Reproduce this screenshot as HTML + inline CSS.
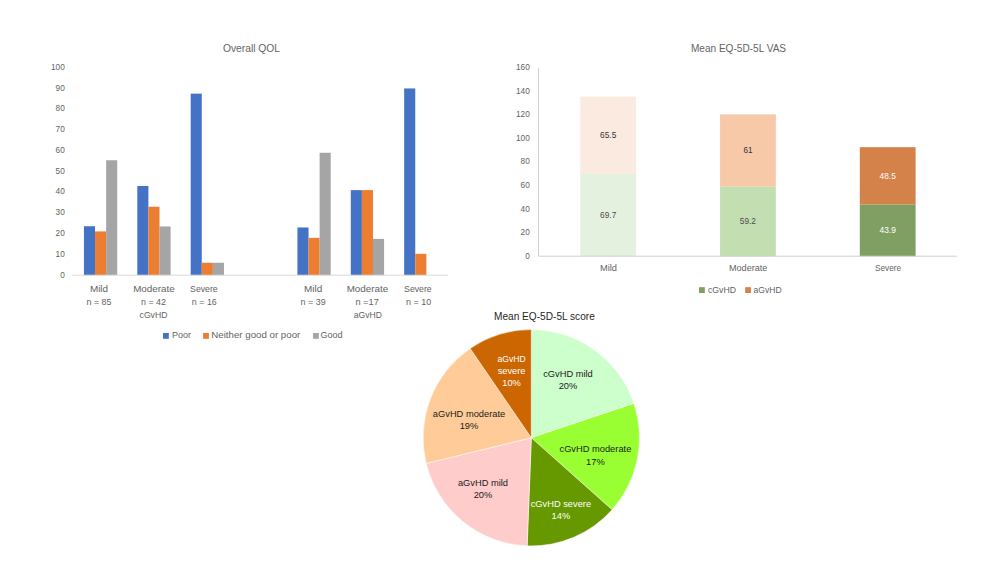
<!DOCTYPE html><html><head><meta charset="utf-8"><style>html,body{margin:0;padding:0;background:#fff}svg{display:block;position:absolute;left:0;top:0}text{font-family:"Liberation Sans",sans-serif}</style></head><body>
<svg width="1000" height="563" viewBox="0 0 1000 563">
<rect width="1000" height="563" fill="#ffffff"/>
<rect x="83.94" y="226.23" width="11.10" height="48.97" fill="#4472C4"/>
<rect x="95.03" y="231.42" width="11.10" height="43.78" fill="#ED7D31"/>
<rect x="106.14" y="160.24" width="11.10" height="114.96" fill="#A5A5A5"/>
<rect x="137.31" y="185.97" width="11.10" height="89.23" fill="#4472C4"/>
<rect x="148.41" y="206.72" width="11.10" height="68.48" fill="#ED7D31"/>
<rect x="159.50" y="226.44" width="11.10" height="48.76" fill="#A5A5A5"/>
<rect x="190.67" y="93.64" width="11.10" height="181.56" fill="#4472C4"/>
<rect x="201.77" y="262.75" width="11.10" height="12.45" fill="#ED7D31"/>
<rect x="212.87" y="262.75" width="11.10" height="12.45" fill="#A5A5A5"/>
<rect x="297.42" y="227.47" width="11.10" height="47.73" fill="#4472C4"/>
<rect x="308.52" y="237.85" width="11.10" height="37.35" fill="#ED7D31"/>
<rect x="319.62" y="152.77" width="11.10" height="122.43" fill="#A5A5A5"/>
<rect x="350.79" y="190.12" width="11.10" height="85.08" fill="#4472C4"/>
<rect x="361.89" y="190.12" width="11.10" height="85.08" fill="#ED7D31"/>
<rect x="372.99" y="238.89" width="11.10" height="36.31" fill="#A5A5A5"/>
<rect x="404.16" y="88.45" width="11.10" height="186.75" fill="#4472C4"/>
<rect x="415.26" y="253.83" width="11.10" height="21.37" fill="#ED7D31"/>
<line x1="72.3" y1="275.2" x2="448" y2="275.2" stroke="#D9D9D9" stroke-width="1"/>
<text x="64.8" y="277.5" font-size="9" fill="#636363" text-anchor="end" textLength="4.6" lengthAdjust="spacingAndGlyphs">0</text>
<text x="64.8" y="256.7" font-size="9" fill="#636363" text-anchor="end" textLength="9.2" lengthAdjust="spacingAndGlyphs">10</text>
<text x="64.8" y="235.9" font-size="9" fill="#636363" text-anchor="end" textLength="9.2" lengthAdjust="spacingAndGlyphs">20</text>
<text x="64.8" y="215.2" font-size="9" fill="#636363" text-anchor="end" textLength="9.2" lengthAdjust="spacingAndGlyphs">30</text>
<text x="64.8" y="194.4" font-size="9" fill="#636363" text-anchor="end" textLength="9.2" lengthAdjust="spacingAndGlyphs">40</text>
<text x="64.8" y="173.6" font-size="9" fill="#636363" text-anchor="end" textLength="9.2" lengthAdjust="spacingAndGlyphs">50</text>
<text x="64.8" y="152.8" font-size="9" fill="#636363" text-anchor="end" textLength="9.2" lengthAdjust="spacingAndGlyphs">60</text>
<text x="64.8" y="132.1" font-size="9" fill="#636363" text-anchor="end" textLength="9.2" lengthAdjust="spacingAndGlyphs">70</text>
<text x="64.8" y="111.3" font-size="9" fill="#636363" text-anchor="end" textLength="9.2" lengthAdjust="spacingAndGlyphs">80</text>
<text x="64.8" y="90.5" font-size="9" fill="#636363" text-anchor="end" textLength="9.2" lengthAdjust="spacingAndGlyphs">90</text>
<text x="64.8" y="69.8" font-size="9" fill="#636363" text-anchor="end" textLength="13.8" lengthAdjust="spacingAndGlyphs">100</text>
<text x="251.5" y="51.9" font-size="10.5" fill="#636363" text-anchor="middle" textLength="57.1" lengthAdjust="spacingAndGlyphs">Overall QOL</text>
<text x="99.0" y="292.4" font-size="9" fill="#636363" text-anchor="middle" textLength="18.2" lengthAdjust="spacingAndGlyphs">Mild</text>
<text x="99.0" y="305.1" font-size="9" fill="#636363" text-anchor="middle" textLength="25.0" lengthAdjust="spacingAndGlyphs">n = 85</text>
<text x="153.9" y="292.4" font-size="9" fill="#636363" text-anchor="middle" textLength="41.4" lengthAdjust="spacingAndGlyphs">Moderate</text>
<text x="153.5" y="305.1" font-size="9" fill="#636363" text-anchor="middle" textLength="25.0" lengthAdjust="spacingAndGlyphs">n = 42</text>
<text x="153.5" y="317.8" font-size="9" fill="#636363" text-anchor="middle" textLength="27.8" lengthAdjust="spacingAndGlyphs">cGvHD</text>
<text x="203.9" y="292.4" font-size="9" fill="#636363" text-anchor="middle" textLength="27.7" lengthAdjust="spacingAndGlyphs">Severe</text>
<text x="204.3" y="305.1" font-size="9" fill="#636363" text-anchor="middle" textLength="25.0" lengthAdjust="spacingAndGlyphs">n = 16</text>
<text x="313.1" y="292.4" font-size="9" fill="#636363" text-anchor="middle" textLength="18.2" lengthAdjust="spacingAndGlyphs">Mild</text>
<text x="313.1" y="305.1" font-size="9" fill="#636363" text-anchor="middle" textLength="25.0" lengthAdjust="spacingAndGlyphs">n = 39</text>
<text x="367.4" y="292.4" font-size="9" fill="#636363" text-anchor="middle" textLength="41.4" lengthAdjust="spacingAndGlyphs">Moderate</text>
<text x="367.1" y="305.1" font-size="9" fill="#636363" text-anchor="middle" textLength="23.4" lengthAdjust="spacingAndGlyphs">n =17</text>
<text x="367.8" y="317.8" font-size="9" fill="#636363" text-anchor="middle" textLength="28.2" lengthAdjust="spacingAndGlyphs">aGvHD</text>
<text x="417.9" y="292.4" font-size="9" fill="#636363" text-anchor="middle" textLength="27.7" lengthAdjust="spacingAndGlyphs">Severe</text>
<text x="418.6" y="305.1" font-size="9" fill="#636363" text-anchor="middle" textLength="25.0" lengthAdjust="spacingAndGlyphs">n = 10</text>
<rect x="163" y="333" width="5.8" height="5.8" fill="#4472C4"/>
<text x="172.0" y="338.3" font-size="9" fill="#636363" text-anchor="start" textLength="19.0" lengthAdjust="spacingAndGlyphs">Poor</text>
<rect x="203.1" y="333" width="5.8" height="5.8" fill="#ED7D31"/>
<text x="211.3" y="338.3" font-size="9" fill="#636363" text-anchor="start" textLength="89.0" lengthAdjust="spacingAndGlyphs">Neither good or poor</text>
<rect x="313" y="333" width="5.8" height="5.8" fill="#A5A5A5"/>
<text x="320.5" y="338.3" font-size="9" fill="#636363" text-anchor="start" textLength="22.0" lengthAdjust="spacingAndGlyphs">Good</text>
<rect x="580.30" y="173.95" width="55.8" height="82.25" fill="#E5F1DF"/>
<rect x="580.30" y="96.66" width="55.8" height="77.29" fill="#FBEAE0"/>
<text x="608.2" y="218.1" font-size="9" fill="#4d4d4d" text-anchor="middle" textLength="16.2" lengthAdjust="spacingAndGlyphs">69.7</text>
<text x="608.2" y="138.3" font-size="9" fill="#333333" text-anchor="middle" textLength="16.2" lengthAdjust="spacingAndGlyphs">65.5</text>
<rect x="720.05" y="186.34" width="55.8" height="69.86" fill="#C3DFB1"/>
<rect x="720.05" y="114.36" width="55.8" height="71.98" fill="#F7C9A9"/>
<text x="747.9" y="224.3" font-size="9" fill="#4d4d4d" text-anchor="middle" textLength="16.2" lengthAdjust="spacingAndGlyphs">59.2</text>
<text x="747.9" y="153.4" font-size="9" fill="#333333" text-anchor="middle" textLength="9.0" lengthAdjust="spacingAndGlyphs">61</text>
<rect x="859.80" y="204.40" width="55.8" height="51.80" fill="#7F9F63"/>
<rect x="859.80" y="147.17" width="55.8" height="57.23" fill="#D4814A"/>
<text x="887.7" y="233.3" font-size="9" fill="#ffffff" text-anchor="middle" textLength="16.2" lengthAdjust="spacingAndGlyphs">43.9</text>
<text x="887.7" y="178.8" font-size="9" fill="#ffffff" text-anchor="middle" textLength="16.2" lengthAdjust="spacingAndGlyphs">48.5</text>
<line x1="538.5" y1="256.2" x2="956.8" y2="256.2" stroke="#D0D0D0" stroke-width="1"/>
<line x1="538.5" y1="68" x2="538.5" y2="256.2" stroke="#D0D0D0" stroke-width="1"/>
<text x="529.8" y="258.7" font-size="9" fill="#636363" text-anchor="end" textLength="4.6" lengthAdjust="spacingAndGlyphs">0</text>
<text x="529.8" y="235.1" font-size="9" fill="#636363" text-anchor="end" textLength="9.2" lengthAdjust="spacingAndGlyphs">20</text>
<text x="529.8" y="211.5" font-size="9" fill="#636363" text-anchor="end" textLength="9.2" lengthAdjust="spacingAndGlyphs">40</text>
<text x="529.8" y="187.9" font-size="9" fill="#636363" text-anchor="end" textLength="9.2" lengthAdjust="spacingAndGlyphs">60</text>
<text x="529.8" y="164.3" font-size="9" fill="#636363" text-anchor="end" textLength="9.2" lengthAdjust="spacingAndGlyphs">80</text>
<text x="529.8" y="140.7" font-size="9" fill="#636363" text-anchor="end" textLength="13.8" lengthAdjust="spacingAndGlyphs">100</text>
<text x="529.8" y="117.1" font-size="9" fill="#636363" text-anchor="end" textLength="13.8" lengthAdjust="spacingAndGlyphs">120</text>
<text x="529.8" y="93.5" font-size="9" fill="#636363" text-anchor="end" textLength="13.8" lengthAdjust="spacingAndGlyphs">140</text>
<text x="529.8" y="69.9" font-size="9" fill="#636363" text-anchor="end" textLength="13.8" lengthAdjust="spacingAndGlyphs">160</text>
<text x="738.5" y="51.6" font-size="10.5" fill="#636363" text-anchor="middle" textLength="95.2" lengthAdjust="spacingAndGlyphs">Mean EQ-5D-5L VAS</text>
<text x="608.5" y="271.0" font-size="8.8" fill="#636363" text-anchor="middle" textLength="17.0" lengthAdjust="spacingAndGlyphs">Mild</text>
<text x="748.2" y="271.0" font-size="8.8" fill="#636363" text-anchor="middle" textLength="38.4" lengthAdjust="spacingAndGlyphs">Moderate</text>
<text x="888.0" y="271.0" font-size="8.8" fill="#636363" text-anchor="middle" textLength="26.0" lengthAdjust="spacingAndGlyphs">Severe</text>
<rect x="699" y="287.2" width="5.8" height="5.8" fill="#7F9F63"/>
<text x="708.0" y="293.4" font-size="9" fill="#636363" text-anchor="start" textLength="28.0" lengthAdjust="spacingAndGlyphs">cGvHD</text>
<rect x="745.2" y="287.2" width="5.8" height="5.8" fill="#D4814A"/>
<text x="753.6" y="293.4" font-size="9" fill="#636363" text-anchor="start" textLength="28.0" lengthAdjust="spacingAndGlyphs">aGvHD</text>
<path d="M531.3,437.75 L531.30,329.55 A108.2,108.2 0 0 1 633.91,403.42 Z" fill="#CCFFCC" stroke="#ffffff" stroke-width="0.5" stroke-linejoin="round"/>
<path d="M531.3,437.75 L633.91,403.42 A108.2,108.2 0 0 1 612.09,509.73 Z" fill="#99FF33" stroke="#ffffff" stroke-width="0.5" stroke-linejoin="round"/>
<path d="M531.3,437.75 L612.09,509.73 A108.2,108.2 0 0 1 527.15,545.87 Z" fill="#669900" stroke="#ffffff" stroke-width="0.5" stroke-linejoin="round"/>
<path d="M531.3,437.75 L527.15,545.87 A108.2,108.2 0 0 1 426.18,463.38 Z" fill="#FFCCCC" stroke="#ffffff" stroke-width="0.5" stroke-linejoin="round"/>
<path d="M531.3,437.75 L426.18,463.38 A108.2,108.2 0 0 1 470.17,348.47 Z" fill="#FFCC99" stroke="#ffffff" stroke-width="0.5" stroke-linejoin="round"/>
<path d="M531.3,437.75 L470.17,348.47 A108.2,108.2 0 0 1 531.30,329.55 Z" fill="#CC6600" stroke="#ffffff" stroke-width="0.5" stroke-linejoin="round"/>
<text x="544.4" y="320.0" font-size="10.5" fill="#262626" text-anchor="middle" textLength="100.8" lengthAdjust="spacingAndGlyphs">Mean EQ-5D-5L score</text>
<text x="568.0" y="376.6" font-size="9.3" fill="#1a1a1a" text-anchor="middle">cGvHD mild</text>
<text x="568.0" y="388.8" font-size="9.3" fill="#1a1a1a" text-anchor="middle">20%</text>
<text x="595.4" y="452.3" font-size="9.3" fill="#1a1a1a" text-anchor="middle">cGvHD moderate</text>
<text x="595.4" y="464.5" font-size="9.3" fill="#1a1a1a" text-anchor="middle">17%</text>
<text x="560.9" y="507.0" font-size="9.3" fill="#ffffff" text-anchor="middle">cGvHD severe</text>
<text x="560.9" y="519.2" font-size="9.3" fill="#ffffff" text-anchor="middle">14%</text>
<text x="483.0" y="486.2" font-size="9.3" fill="#1a1a1a" text-anchor="middle">aGvHD mild</text>
<text x="483.0" y="498.4" font-size="9.3" fill="#1a1a1a" text-anchor="middle">20%</text>
<text x="469.0" y="417.0" font-size="9.3" fill="#1a1a1a" text-anchor="middle">aGvHD moderate</text>
<text x="469.0" y="429.2" font-size="9.3" fill="#1a1a1a" text-anchor="middle">19%</text>
<text x="511.6" y="361.6" font-size="9.3" fill="#ffffff" text-anchor="middle" textLength="28.4" lengthAdjust="spacingAndGlyphs">aGvHD</text>
<text x="511.6" y="373.8" font-size="9.3" fill="#ffffff" text-anchor="middle">severe</text>
<text x="511.6" y="386.0" font-size="9.3" fill="#ffffff" text-anchor="middle">10%</text>
</svg></body></html>
